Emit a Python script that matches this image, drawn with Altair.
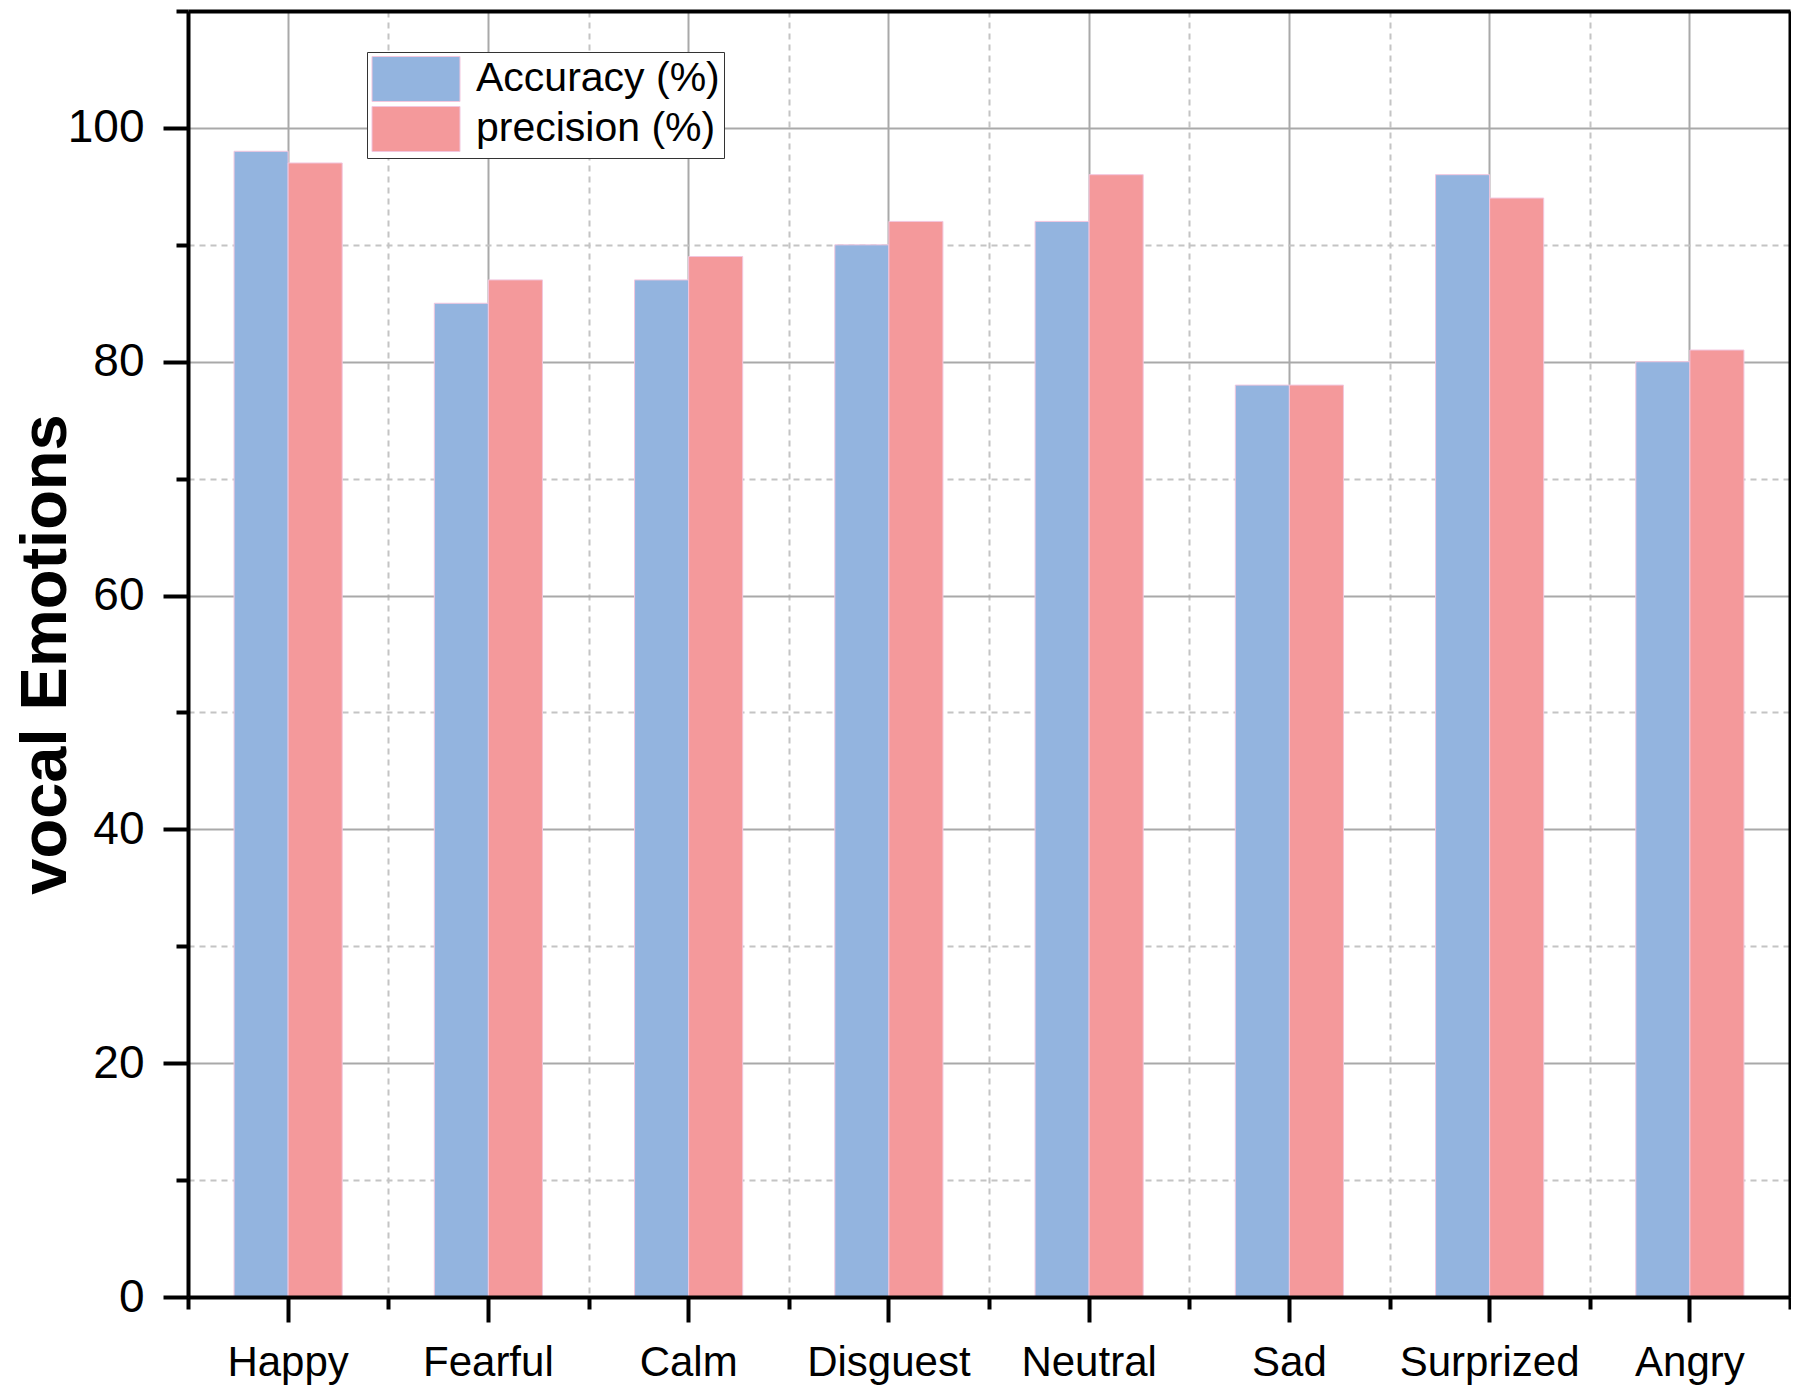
import altair as alt
import pandas as pd

emotions = ["Happy", "Fearful", "Calm", "Disguest", "Neutral", "Sad", "Surprized", "Angry"]
accuracy = [98, 85, 87, 90, 92, 78, 96, 80]
precision = [97, 87, 89, 92, 96, 78, 94, 81]
series = ["Accuracy (%)", "precision (%)"]
colors = ["#93b4df", "#f4999b"]
y_major = [0, 20, 40, 60, 80, 100]
y_minor = [10, 30, 50, 70, 90, 110]

rows = []
for e, a, p in zip(emotions, accuracy, precision):
    rows.append({"emotion": e, "series": series[0], "value": a})
    rows.append({"emotion": e, "series": series[1], "value": p})
df = pd.DataFrame(rows)

FONT = "Liberation Sans"
xscale = alt.Scale(paddingInner=0, paddingOuter=0)
yscale = alt.Scale(domain=[0, 110], nice=False)

# Layer A: bars, labels, solid major grid
bars = alt.Chart(df).mark_bar(stroke="#f2c6de", strokeWidth=1).encode(
    x=alt.X("emotion:N", sort=emotions, scale=xscale, title=None,
            axis=alt.Axis(orient="bottom", domain=False, ticks=False, grid=True,
                          gridColor="#a9a9a9", gridWidth=2, labelFontSize=42,
                          labelFont=FONT, labelColor="black",
                          labelPadding=45, labelAngle=0, zindex=0)),
    xOffset=alt.XOffset("series:N", sort=series,
                        scale=alt.Scale(paddingInner=0, paddingOuter=0.852)),
    y=alt.Y("value:Q", scale=yscale, title="vocal Emotions",
            axis=alt.Axis(orient="left", values=y_major, domain=False, ticks=False, grid=True,
                          gridColor="#a9a9a9", gridWidth=2, labelFontSize=46, labelFont=FONT,
                          labelColor="black", labelPadding=44,
                          titleFontSize=65, titleFont=FONT, titleFontWeight="bold",
                          titleColor="black", titleAngle=270, titleX=-143, titleY=643,
                          titleAlign="center", titleBaseline="middle", zindex=0)),
    color=alt.Color("series:N", sort=series,
                    scale=alt.Scale(domain=series, range=colors),
                    legend=alt.Legend(title=None, orient="none", legendX=179, legendY=41,
                                      strokeColor="#333333", fillColor="white", padding=4,
                                      labelFontSize=41, labelFont=FONT, labelColor="black",
                                      labelLimit=0, labelOffset=37, symbolOffset=22,
                                      rowPadding=0,
                                      symbolType="M-1.956,-1H1.956V1H-1.956Z", symbolSize=2025,
                                      symbolStrokeColor="#f2c6de", symbolStrokeWidth=1,
                                      symbolOpacity=1)),
)

# Layer B: minor ticks and dashed grid (at category boundaries)
minor = alt.Chart(df).mark_point(opacity=0, size=1).encode(
    x=alt.X("emotion:N", sort=emotions, title=None,
            axis=alt.Axis(orient="bottom", labels=False, domain=False, tickBand="extent",
                          tickSize=12, tickWidth=4, tickColor="black", grid=True,
                          gridColor="#c4c4c4", gridWidth=2, gridDash=[6, 5], zindex=0)),
    y=alt.Y("value:Q", title=None,
            axis=alt.Axis(orient="left", values=y_minor, labels=False, domain=False,
                          tickSize=12, tickWidth=4, tickColor="black", grid=True,
                          gridColor="#c4c4c4", gridWidth=2, gridDash=[6, 5], zindex=0)),
)

# Layer C: axis lines and major ticks on top
frame = alt.Chart(df).mark_point(opacity=0, size=1).encode(
    x=alt.X("emotion:N", sort=emotions, title=None,
            axis=alt.Axis(orient="bottom", labels=False, domain=True, domainColor="black",
                          domainWidth=4, ticks=True, tickSize=25, tickWidth=4,
                          tickColor="black", grid=False, zindex=1)),
    y=alt.Y("value:Q", title=None,
            axis=alt.Axis(orient="left", values=y_major, labels=False, domain=True,
                          domainColor="black", domainWidth=4, ticks=True, tickSize=25,
                          tickWidth=4, tickColor="black", grid=False, zindex=1)),
)

# Layer D: top and right border lines
border = alt.Chart(df).mark_point(opacity=0, size=1).encode(
    x=alt.X("emotion:N", sort=emotions, title=None,
            axis=alt.Axis(orient="top", labels=False, domain=True, domainColor="black",
                          domainWidth=4, ticks=False, grid=False, zindex=1)),
    y=alt.Y("value:Q", title=None,
            axis=alt.Axis(orient="right", labels=False, domain=True, domainColor="black",
                          domainWidth=4, ticks=False, grid=False, zindex=1)),
)

chart = alt.layer(bars, minor, frame, border).resolve_axis(
    x="independent", y="independent"
).properties(
    width=1602, height=1286,
    autosize=alt.AutoSizeParams(type="none"),
    padding={"left": 180, "top": 3, "right": 1, "bottom": 90},
).configure_view(
    stroke=None
).configure(background="white")

chart.save("out.html", embed_options={"renderer": "svg", "actions": False})
